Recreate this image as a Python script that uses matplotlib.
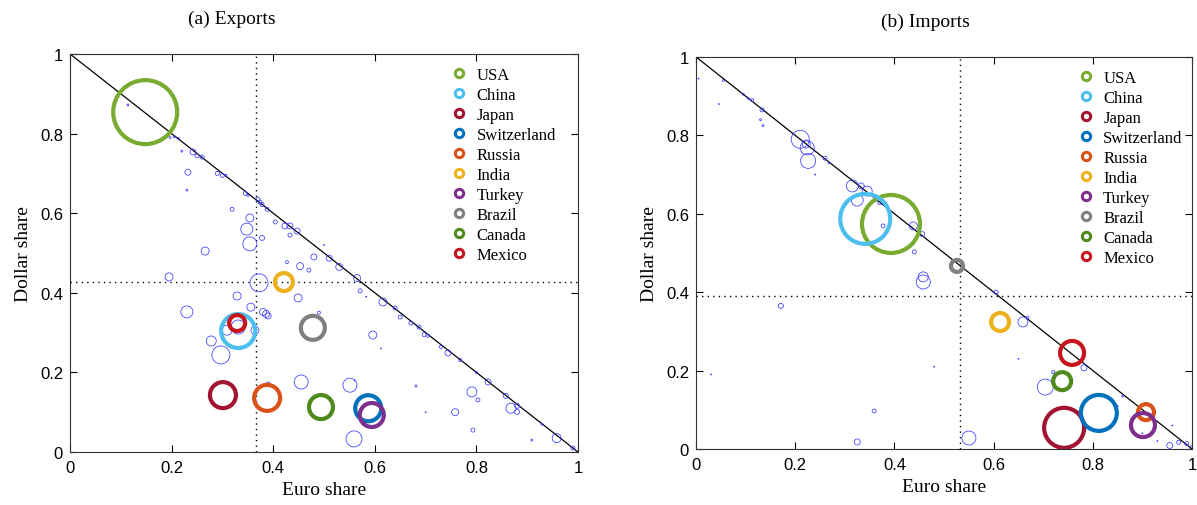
import numpy as np
import matplotlib
matplotlib.use("Agg")
import matplotlib.pyplot as plt
from matplotlib.lines import Line2D

# country names and MATLAB-ish colours
countries = ["USA", "China", "Japan", "Switzerland", "Russia", "India",
             "Turkey", "Brazil", "Canada", "Mexico"]
colors = ["#77AC30", "#4DBEEE", "#A2142F", "#0072BD", "#D95319", "#EDB120",
          "#7E2F8E", "#808080", "#4E8A1C", "#C4161C"]

# (a) exports: euro share, dollar share, volume (bubble radius)
exp_euro = [0.148, 0.331, 0.301, 0.587, 0.388, 0.421, 0.594, 0.478, 0.494, 0.329]
exp_dollar = [0.854, 0.304, 0.143, 0.110, 0.136, 0.427, 0.093, 0.312, 0.113, 0.324]
exp_vol = [32, 17, 13, 13, 13, 9, 12, 12, 12, 8]
exp_euro_mean = 0.366
exp_dollar_mean = 0.427

# (b) imports
imp_euro = [0.393, 0.341, 0.742, 0.812, 0.907, 0.613, 0.901, 0.526, 0.738, 0.758]
imp_dollar = [0.574, 0.587, 0.054, 0.092, 0.094, 0.324, 0.061, 0.467, 0.173, 0.245]
imp_vol = [29, 25, 20, 18, 8, 9, 12, 6, 9, 12]
imp_euro_mean = 0.532
imp_dollar_mean = 0.390

# other countries, exports
oth_exp_euro = [0.114, 0.197, 0.205, 0.213, 0.220, 0.242, 0.250, 0.260, 0.232, 0.230,
                0.290, 0.300, 0.307, 0.319, 0.345, 0.350, 0.370, 0.374, 0.378, 0.388,
                0.354, 0.348, 0.354, 0.378, 0.266, 0.404, 0.423, 0.433, 0.447, 0.433,
                0.480, 0.510, 0.427, 0.453, 0.470, 0.530, 0.565, 0.571, 0.616, 0.640,
                0.650, 0.671, 0.687, 0.697, 0.705, 0.730, 0.744, 0.768, 0.800, 0.823,
                0.791, 0.803, 0.858, 0.868, 0.880, 0.880, 0.758, 0.793, 0.909, 0.929,
                0.958, 0.990, 0.681, 0.372, 0.329, 0.356, 0.449, 0.380, 0.386, 0.390,
                0.490, 0.195, 0.230, 0.309, 0.331, 0.364, 0.278, 0.297, 0.596, 0.455,
                0.551, 0.390, 0.559, 0.583, 0.560, 0.700, 0.612, 0.500]
oth_exp_dollar = [0.872, 0.790, 0.792, 0.788, 0.756, 0.754, 0.744, 0.741, 0.703, 0.658,
                  0.700, 0.695, 0.695, 0.610, 0.650, 0.645, 0.635, 0.628, 0.622, 0.610,
                  0.588, 0.560, 0.523, 0.538, 0.505, 0.578, 0.568, 0.568, 0.555, 0.545,
                  0.490, 0.487, 0.477, 0.467, 0.457, 0.465, 0.437, 0.405, 0.377, 0.362,
                  0.339, 0.324, 0.314, 0.295, 0.292, 0.264, 0.249, 0.231, 0.200, 0.176,
                  0.151, 0.131, 0.141, 0.110, 0.116, 0.101, 0.100, 0.055, 0.030, 0.070,
                  0.035, 0.010, 0.166, 0.425, 0.392, 0.364, 0.387, 0.352, 0.347, 0.342,
                  0.350, 0.440, 0.352, 0.306, 0.314, 0.306, 0.279, 0.244, 0.294, 0.176,
                  0.168, 0.171, 0.033, 0.390, 0.180, 0.100, 0.260, 0.520]
oth_exp_vol = [1, 1, 1, 1, 1, 3, 2, 2, 3, 1,
               2, 2, 1, 2, 2, 1, 2, 2, 2, 2,
               4, 6, 7, 2.5, 4, 2, 3, 3, 3, 2,
               3, 3, 1.5, 3.5, 2, 3.5, 3.5, 2, 4, 2,
               2, 2, 2, 2, 1.5, 1.5, 3, 1.5, 1, 3,
               5, 2, 2.5, 5, 2.5, 2.5, 3.5, 2, 1, 1,
               4.5, 2, 1, 9, 4, 4, 4, 3.5, 3.5, 3,
               1.5, 4, 6, 5, 7, 4, 5, 9, 4, 7,
               7, 2, 8, 0.5, 0.5, 0.5, 0.5, 0.5]

# other countries, imports
oth_imp_euro = [0.055, 0.095, 0.105, 0.113, 0.133, 0.130, 0.135, 0.046, 0.210, 0.222,
                0.224, 0.226, 0.260, 0.268, 0.315, 0.333, 0.345, 0.325, 0.371, 0.377,
                0.438, 0.456, 0.440, 0.458, 0.458, 0.605, 0.659, 0.668, 0.720, 0.704,
                0.782, 0.860, 0.955, 0.973, 0.989, 0.999, 0.171, 0.359, 0.325, 0.550,
                0.005, 0.030, 0.240, 0.480, 0.650, 0.850, 0.900, 0.930, 0.960]
oth_imp_dollar = [0.940, 0.905, 0.895, 0.890, 0.865, 0.840, 0.825, 0.880, 0.790, 0.778,
                  0.768, 0.735, 0.742, 0.730, 0.671, 0.671, 0.658, 0.635, 0.630, 0.569,
                  0.569, 0.548, 0.503, 0.439, 0.426, 0.400, 0.324, 0.335, 0.196, 0.158,
                  0.207, 0.135, 0.009, 0.017, 0.014, 0.003, 0.365, 0.097, 0.018, 0.028,
                  0.945, 0.190, 0.700, 0.210, 0.230, 0.110, 0.040, 0.020, 0.060]
oth_imp_vol = [1, 1, 1, 1.5, 2, 1, 1, 0.5, 9, 4,
               7, 7.5, 2, 1, 6, 3, 5, 6, 2.5, 2,
               4, 2.5, 2, 5, 7, 2, 5, 1.5, 1.5, 8,
               3, 1, 3, 2, 2, 2, 2.5, 2, 3, 7,
               0.5, 0.5, 0.5, 0.5, 0.5, 0.5, 0.5, 0.5, 0.5]

SERIF = ["Liberation Serif", "DejaVu Serif"]
SANS = ["Liberation Sans", "DejaVu Sans"]
PX2PT = 0.72  # dpi 100


def size_of(vol):
    # radius in px -> scatter area in pt^2
    return (2 * np.asarray(vol, dtype=float) * PX2PT) ** 2


def draw_panel(ax, euro, dollar, vol, o_euro, o_dollar, o_vol, e_mean, d_mean, leg_anchor):
    ax.plot([0, 1], [1, 0], color="black", lw=0.9, zorder=2)
    ax.axvline(e_mean, color="black", lw=1.0, ls=(0, (1, 3)), zorder=1)
    ax.axhline(d_mean, color="black", lw=1.0, ls=(0, (1, 3)), zorder=1)
    ax.scatter(o_euro, o_dollar, s=size_of(o_vol), facecolors="none",
               edgecolors="#3a3aff", linewidths=0.55, zorder=3)
    for i, name in enumerate(countries):
        ax.scatter(euro[i], dollar[i], s=size_of(vol[i]), facecolors="none",
                   edgecolors=colors[i], linewidths=3.0, zorder=4)
    ax.set_xlim(0, 1)
    ax.set_ylim(0, 1)
    ticks = [0, 0.2, 0.4, 0.6, 0.8, 1]
    ax.set_xticks(ticks)
    ax.set_yticks(ticks)
    ax.set_xticklabels(["0", "0.2", "0.4", "0.6", "0.8", "1"], fontfamily=SANS, fontsize=12)
    ax.set_yticklabels(["0", "0.2", "0.4", "0.6", "0.8", "1"], fontfamily=SANS, fontsize=12)
    ax.tick_params(axis="x", direction="in", top=True, length=5, width=0.8, pad=6)
    ax.tick_params(axis="y", direction="in", right=True, length=5, width=0.8, pad=5)
    for sp in ax.spines.values():
        sp.set_linewidth(0.8)
        sp.set_color("#333333")
    ax.set_xlabel("Euro share", fontfamily=SERIF, fontsize=14, labelpad=4)
    ax.set_ylabel("Dollar share", fontfamily=SERIF, fontsize=14, labelpad=6)
    handles = [Line2D([], [], ls="none", marker="o", markersize=6, markerfacecolor="white",
                      markeredgecolor=c, markeredgewidth=2.2) for c in colors]
    ax.legend(handles, countries, loc="upper left", bbox_to_anchor=leg_anchor, frameon=False,
              prop={"family": SERIF, "size": 12}, handletextpad=0.45, labelspacing=0.24,
              handlelength=1.2, borderaxespad=0)


fig = plt.figure(figsize=(11.97, 5.06), dpi=100)
ax1 = fig.add_axes([0.0585, 0.1047, 0.4244, 0.7866])
ax2 = fig.add_axes([0.5815, 0.1107, 0.4144, 0.7747])

draw_panel(ax1, exp_euro, exp_dollar, exp_vol, oth_exp_euro, oth_exp_dollar, oth_exp_vol,
           exp_euro_mean, exp_dollar_mean, (0.733, 0.985))
draw_panel(ax2, imp_euro, imp_dollar, imp_vol, oth_imp_euro, oth_imp_dollar, oth_imp_vol,
           imp_euro_mean, imp_dollar_mean, (0.752, 0.985))

fig.text(0.194, 0.962, "(a) Exports", fontfamily=SERIF, fontsize=14, ha="center", va="center")
fig.text(0.773, 0.955, "(b) Imports", fontfamily=SERIF, fontsize=14, ha="center", va="center")

fig.savefig("out.png", dpi=100)
